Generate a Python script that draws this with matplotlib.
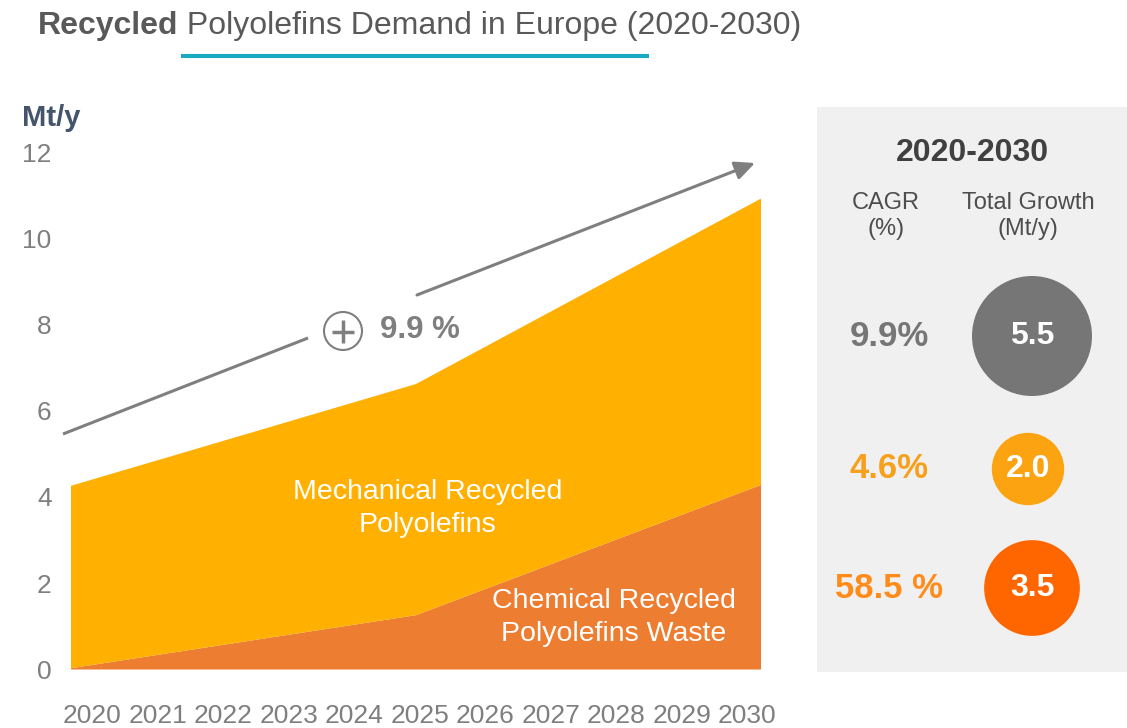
import numpy as np
import matplotlib
matplotlib.use("Agg")
import matplotlib.pyplot as plt
from matplotlib.patches import Circle, Rectangle

plt.rcParams['font.family'] = ['Liberation Sans', 'DejaVu Sans']

# values (lines bend at 2025)
years = [2020, 2025, 2030]
chemical = [0.03, 1.26, 4.28]
mechanical = [4.23, 5.36, 6.64]
year_labels = [str(y) for y in range(2020, 2031)]
y_ticks = [0, 2, 4, 6, 8, 10, 12]

total_cagr_label = '9.9 %'
cagr_labels = ['9.9%', '4.6%', '58.5 %']
growth_values = [5.5, 2.0, 3.5]

# colours
mech_clr = '#FFB000'
chem_clr = '#ED7D31'
grey = '#767676'
text_clr = '#4D4D4D'
cagr_clrs = [grey, '#F7A01C', '#FF8C1A']
circle_clrs = [grey, '#FCA311', '#FF6600']

W, H = 1127, 728
fig = plt.figure(figsize=(W / 100, H / 100), dpi=100)

# overlay in pixel coordinates for the annotations and the side panel
side = fig.add_axes([0, 0, 1, 1])
side.set_xlim(0, W)
side.set_ylim(H, 0)
side.axis('off')

# title: bold first word, rest regular
t1 = side.text(38, 26, 'Recycled', fontsize=23, fontweight='bold',
               color='#595959', va='center', ha='left')
fig.canvas.draw()
bb = t1.get_window_extent()
side.text(bb.x1, 26, ' Polyolefins Demand in Europe (2020-2030)', fontsize=23,
          color='#595959', va='center', ha='left')
side.plot([181, 649], [56, 56], color='#19AAC2', lw=3, solid_capstyle='butt')

side.text(22, 118, 'Mt/y', fontsize=21, fontweight='bold', color='#44546A',
          va='center', ha='left')

# growth arrow with a gap for the label
side.plot([63, 308], [434, 338], color='#7F7F7F', lw=2.2, solid_capstyle='butt')
side.annotate('', xy=(755, 163), xytext=(417, 295),
              arrowprops=dict(arrowstyle='-|>,head_length=0.6,head_width=0.28',
                              color='#7F7F7F', lw=2.2, mutation_scale=20,
                              shrinkA=0, shrinkB=0))
side.add_patch(Circle((343, 331), 19, fill=False, ec='#7F7F7F', lw=1.5))
side.plot([332, 354], [332, 332], color='#7F7F7F', lw=2.5, solid_capstyle='butt')
side.plot([343, 343], [320, 343], color='#7F7F7F', lw=2.5, solid_capstyle='butt')
side.text(380, 330, total_cagr_label, fontsize=22.5, fontweight='bold', color='#7F7F7F',
          va='center', ha='left')

# side panel
side.add_patch(Rectangle((817, 107), W - 817, 565, color='#F0F0F0', lw=0))
side.text(972, 153, '2020-2030', fontsize=23, fontweight='bold', color='#404040',
          ha='center', va='center')
side.text(886, 216, 'CAGR\n(%)', fontsize=17, color=text_clr, ha='center',
          va='center', linespacing=1.25)
side.text(1028, 216, 'Total Growth\n(Mt/y)', fontsize=17, color=text_clr,
          ha='center', va='center', linespacing=1.25)

row_y = [336, 469, 588]
circle_x = [1032, 1028, 1032]
max_r = 60
for i, (lab, val) in enumerate(zip(cagr_labels, growth_values)):
    side.text(889, row_y[i], lab, fontsize=25, fontweight='bold', color=cagr_clrs[i],
              ha='center', va='center')
    r = max_r * np.sqrt(val / max(growth_values))
    side.add_patch(Circle((circle_x[i], row_y[i]), r, color=circle_clrs[i], lw=0))
    side.text(circle_x[i], row_y[i], f'{val:.1f}', fontsize=23, fontweight='bold',
              color='white', ha='center', va='center')

# main area chart
ax = fig.add_axes([71 / W, 1 - 669.5 / H, (761 - 71) / W, (669.5 - 152) / H])
ax.patch.set_alpha(0)
ax.stackplot(years, chemical, mechanical, colors=[chem_clr, mech_clr], lw=0)
ax.set_xlim(2020, 2030)
ax.set_ylim(0, 12)

tick_pos = np.linspace(2020.31, 2029.80, len(year_labels))
ax.set_xticks(tick_pos, year_labels)
ax.set_yticks(y_ticks)
ax.tick_params(axis='both', length=0, labelsize=19, colors='#7F7F7F')
ax.tick_params(axis='x', pad=25)
ax.tick_params(axis='y', pad=14)
for s in ax.spines.values():
    s.set_visible(False)

ax.text(2025.17, 3.74, 'Mechanical Recycled\nPolyolefins', fontsize=20.5, color='white',
        ha='center', va='center', linespacing=1.35)
ax.text(2027.87, 1.2, 'Chemical Recycled\nPolyolefins Waste', fontsize=20.5, color='white',
        ha='center', va='center', linespacing=1.35)

fig.savefig('out.png', dpi=100)
